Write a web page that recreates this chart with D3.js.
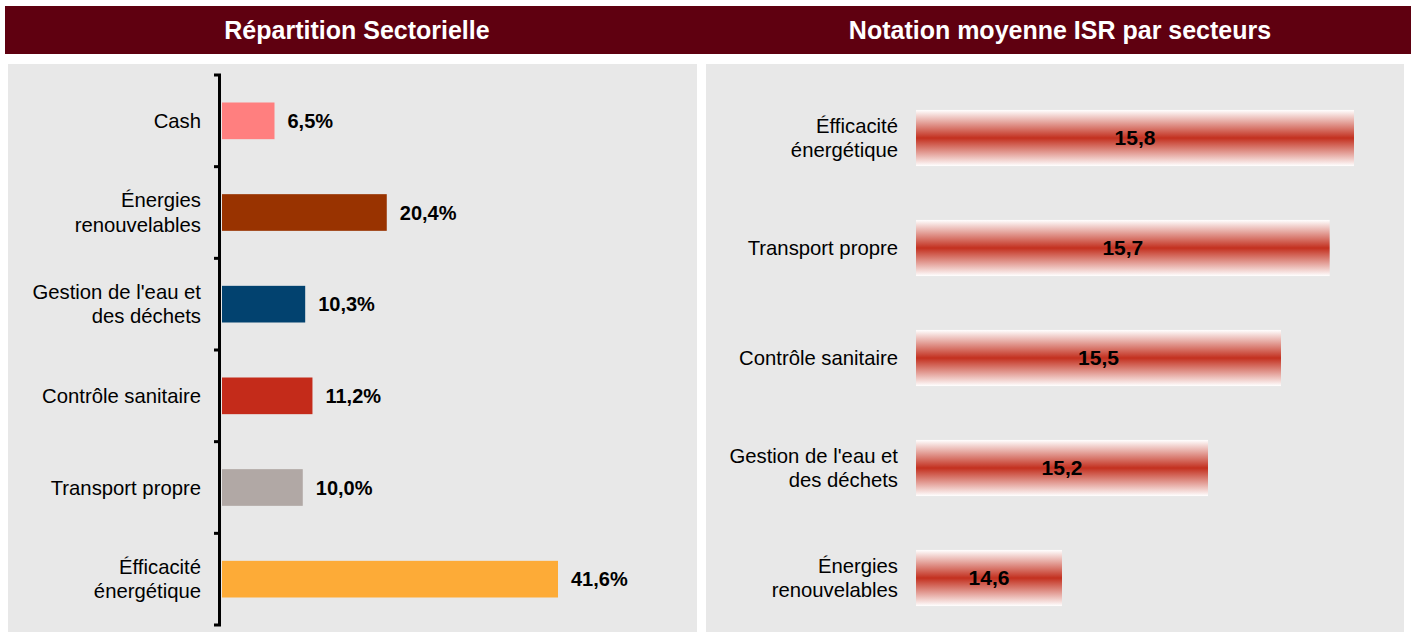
<!DOCTYPE html>
<html>
<head>
<meta charset="utf-8">
<script src="https://cdn.jsdelivr.net/npm/d3@7"></script>
<style>
  html, body { margin: 0; padding: 0; background: #fff; }
  svg { display: block; font-family: "Liberation Sans", Arial, sans-serif; }
</style>
</head>
<body>
<svg id="chart" width="1413" height="632"></svg>
<script>
// left chart: sector split
const sectors = ['Cash', 'Énergies\nrenouvelables', "Gestion de l'eau et\ndes déchets",
                 'Contrôle sanitaire', 'Transport propre', 'Éfficacité\nénergétique'];
const weights = [6.5, 20.4, 10.3, 11.2, 10.0, 41.6];
const sectorColors = ['#ff7f7f', '#993300', '#02426f', '#c42b1a', '#b1a8a5', '#fdab37'];

// right chart: average ISR score
const isrSectors = ['Éfficacité\nénergétique', 'Transport propre', 'Contrôle sanitaire',
                    "Gestion de l'eau et\ndes déchets", 'Énergies\nrenouvelables'];
const isrScores = [15.8, 15.7, 15.5, 15.2, 14.6];

const titles = ['Répartition Sectorielle', 'Notation moyenne ISR par secteurs'];

const fmt = (v, d) => v.toFixed(d).replace('.', ',');

const svg = d3.select('#chart');

// header band and panels
svg.append('rect').attr('x', 5).attr('y', 6).attr('width', 1406).attr('height', 48)
  .attr('fill', '#5f0010');
svg.append('rect').attr('x', 8).attr('y', 64).attr('width', 689).attr('height', 568)
  .attr('fill', '#e8e8e8');
svg.append('rect').attr('x', 706).attr('y', 64).attr('width', 698).attr('height', 568)
  .attr('fill', '#e8e8e8');

svg.selectAll('.title')
  .data(titles)
  .enter().append('text')
    .attr('class', 'title')
    .attr('x', (d, i) => i === 0 ? 357 : 1060)
    .attr('y', 30)
    .attr('dy', '0.36em')
    .attr('text-anchor', 'middle')
    .attr('fill', '#fff')
    .attr('font-weight', 'bold')
    .attr('font-size', 25)
    .text(d => d);

const multiline = (sel, x, lineH) => {
  sel.each(function(d) {
    const lines = d.split('\n');
    const t = d3.select(this);
    lines.forEach((l, k) => {
      t.append('tspan')
        .attr('x', x)
        .attr('dy', k === 0 ? `${0.35 - (lines.length - 1) * lineH / 2}em` : `${lineH}em`)
        .text(l);
    });
  });
};

// ---- left chart
{
  const x = d3.scaleLinear().domain([0, 41.6]).range([222, 558]);
  const y = d3.scaleBand().domain(sectors).range([75, 625]).paddingInner(0.6).paddingOuter(0.3);

  const g = svg.append('g');

  g.selectAll('.bar')
    .data(sectors)
    .enter().append('rect')
      .attr('class', 'bar')
      .attr('x', x(0))
      .attr('y', d => y(d))
      .attr('width', (d, i) => x(weights[i]) - x(0))
      .attr('height', y.bandwidth())
      .attr('fill', (d, i) => sectorColors[i]);

  g.selectAll('.val')
    .data(sectors)
    .enter().append('text')
      .attr('class', 'val')
      .attr('x', (d, i) => x(weights[i]) + 13)
      .attr('y', d => y(d) + y.bandwidth() / 2)
      .attr('dy', '0.35em')
      .attr('font-size', 20)
      .attr('font-weight', 'bold')
      .attr('fill', '#000')
      .text((d, i) => fmt(weights[i], 1) + '%');

  g.selectAll('.cat')
    .data(sectors)
    .enter().append('text')
      .attr('class', 'cat')
      .attr('y', d => y(d) + y.bandwidth() / 2)
      .attr('text-anchor', 'end')
      .attr('font-size', 20.3)
      .attr('fill', '#000')
      .call(multiline, 201, 1.2);

  // axis with boundary ticks
  const yEdges = sectors.map((d, i) => 75 + i * (550 / sectors.length)).concat([625]);
  g.append('line')
    .attr('x1', 219.5).attr('x2', 219.5).attr('y1', 74).attr('y2', 626)
    .attr('stroke', '#000').attr('stroke-width', 3);
  g.selectAll('.tick')
    .data(yEdges)
    .enter().append('line')
      .attr('class', 'tick')
      .attr('x1', 214).attr('x2', 221)
      .attr('y1', d => d).attr('y2', d => d)
      .attr('stroke', '#000').attr('stroke-width', 3);
}

// ---- right chart
{
  const x = d3.scaleLinear().domain([14, 15.8]).range([916, 1354]);
  const y = d3.scaleBand().domain(isrSectors).range([83, 633]).paddingInner(0.49).paddingOuter(0.245);

  const defs = svg.append('defs');
  const grad = defs.append('linearGradient')
    .attr('id', 'redGrad').attr('x1', 0).attr('x2', 0).attr('y1', 0).attr('y2', 1);
  grad.append('stop').attr('offset', '0%').attr('stop-color', '#ffffff');
  grad.append('stop').attr('offset', '50%').attr('stop-color', '#c3301f');
  grad.append('stop').attr('offset', '100%').attr('stop-color', '#ffffff');

  const g = svg.append('g');

  g.selectAll('.bar')
    .data(isrSectors)
    .enter().append('rect')
      .attr('class', 'bar')
      .attr('x', x(14))
      .attr('y', d => y(d))
      .attr('width', (d, i) => x(isrScores[i]) - x(14))
      .attr('height', y.bandwidth())
      .attr('fill', 'url(#redGrad)');

  g.selectAll('.val')
    .data(isrSectors)
    .enter().append('text')
      .attr('class', 'val')
      .attr('x', (d, i) => (x(isrScores[i]) + x(14)) / 2)
      .attr('y', d => y(d) + y.bandwidth() / 2)
      .attr('dy', '0.35em')
      .attr('text-anchor', 'middle')
      .attr('font-size', 21)
      .attr('font-weight', 'bold')
      .attr('fill', '#000')
      .text((d, i) => fmt(isrScores[i], 1));

  g.selectAll('.cat')
    .data(isrSectors)
    .enter().append('text')
      .attr('class', 'cat')
      .attr('y', d => y(d) + y.bandwidth() / 2)
      .attr('text-anchor', 'end')
      .attr('font-size', 20.3)
      .attr('fill', '#000')
      .call(multiline, 898, 1.2);
}
</script>
</body>
</html>
